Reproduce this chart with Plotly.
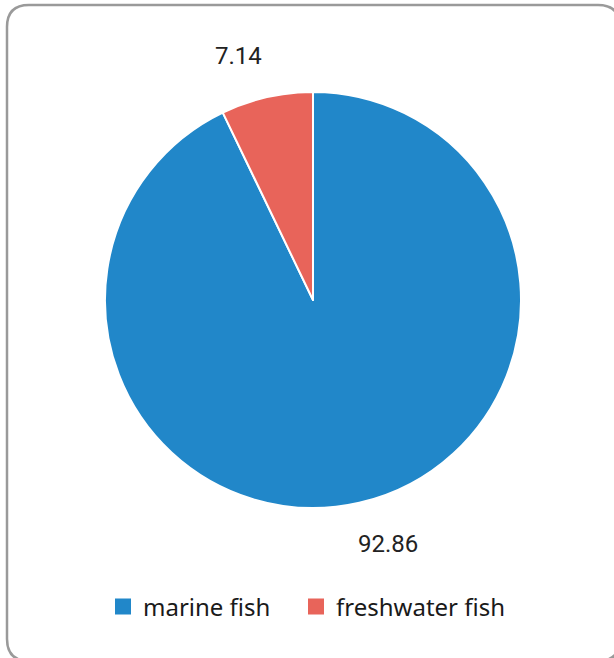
import math
import plotly.graph_objects as go

labels = ["marine fish", "freshwater fish"]
values = [92.86, 7.14]
colors = ["#2187c9", "#e8645a"]

W, H = 614, 658

def px(x):
    return x / W

def py(y):
    return 1 - y / H

# rounded border (pixel coords -> paper)
x0, y0, x1, y1, r = 7, 5, 620, 661, 22
path = (
    f"M {px(x0+r)},{py(y0)} L {px(x1-r)},{py(y0)} "
    f"Q {px(x1)},{py(y0)} {px(x1)},{py(y0+r)} "
    f"L {px(x1)},{py(y1-r)} Q {px(x1)},{py(y1)} {px(x1-r)},{py(y1)} "
    f"L {px(x0+r)},{py(y1)} Q {px(x0)},{py(y1)} {px(x0)},{py(y1-r)} "
    f"L {px(x0)},{py(y0+r)} Q {px(x0)},{py(y0)} {px(x0+r)},{py(y0)} Z"
)

cx, cy, R = 313, 300, 208
LR = 250  # label distance from centre
XOFF = 19  # horizontal push away from the vertical axis

fig = go.Figure()
fig.add_trace(go.Pie(
    labels=labels, values=values, sort=False, direction="clockwise", rotation=0,
    marker=dict(colors=colors, line=dict(color="white", width=2)),
    textinfo="none", hoverinfo="label+value", showlegend=False,
    domain=dict(x=[px(cx - R), px(cx + R)], y=[py(cy + R), py(cy - R)]),
))

# legend entries
legend_widths = [148, 0]
for lab, col, lw in zip(labels, colors, legend_widths):
    fig.add_trace(go.Scatter(x=[None], y=[None], mode="markers", name=lab,
                             legendwidth=lw,
                             marker=dict(symbol="square", size=24, color=col)))

# value labels along each slice bisector
annotations = []
total = sum(values)
cum = 0.0
for v in values:
    mid = (cum + v / 2) / total * 2 * math.pi
    cum += v
    lx = cx + LR * math.sin(mid)
    ly = cy - LR * math.cos(mid)
    annotations.append(dict(x=px(lx), y=py(ly), xref="paper", yref="paper",
                            text=f"{v:.2f}", showarrow=False,
                            xanchor="center", yanchor="middle",
                            xshift=XOFF if math.sin(mid) > 0 else -XOFF,
                            font=dict(family="Roboto", size=24, color="#222")))

fig.update_layout(
    width=W, height=H,
    margin=dict(l=0, r=0, t=0, b=0),
    paper_bgcolor="white", plot_bgcolor="white",
    xaxis=dict(visible=False), yaxis=dict(visible=False),
    showlegend=True,
    legend=dict(orientation="h", x=0.5, xanchor="center", y=py(607), yanchor="middle",
                font=dict(family="Noto Sans", size=24, color="#1a1a1a"),
                itemsizing="trace"),
    annotations=annotations,
    shapes=[dict(type="path", xref="paper", yref="paper", path=path,
                 line=dict(color="#9a9a9a", width=2.5))],
)

fig.write_html("out.html", config={"displayModeBar": False},
               post_script="document.body.style.margin='0';")
